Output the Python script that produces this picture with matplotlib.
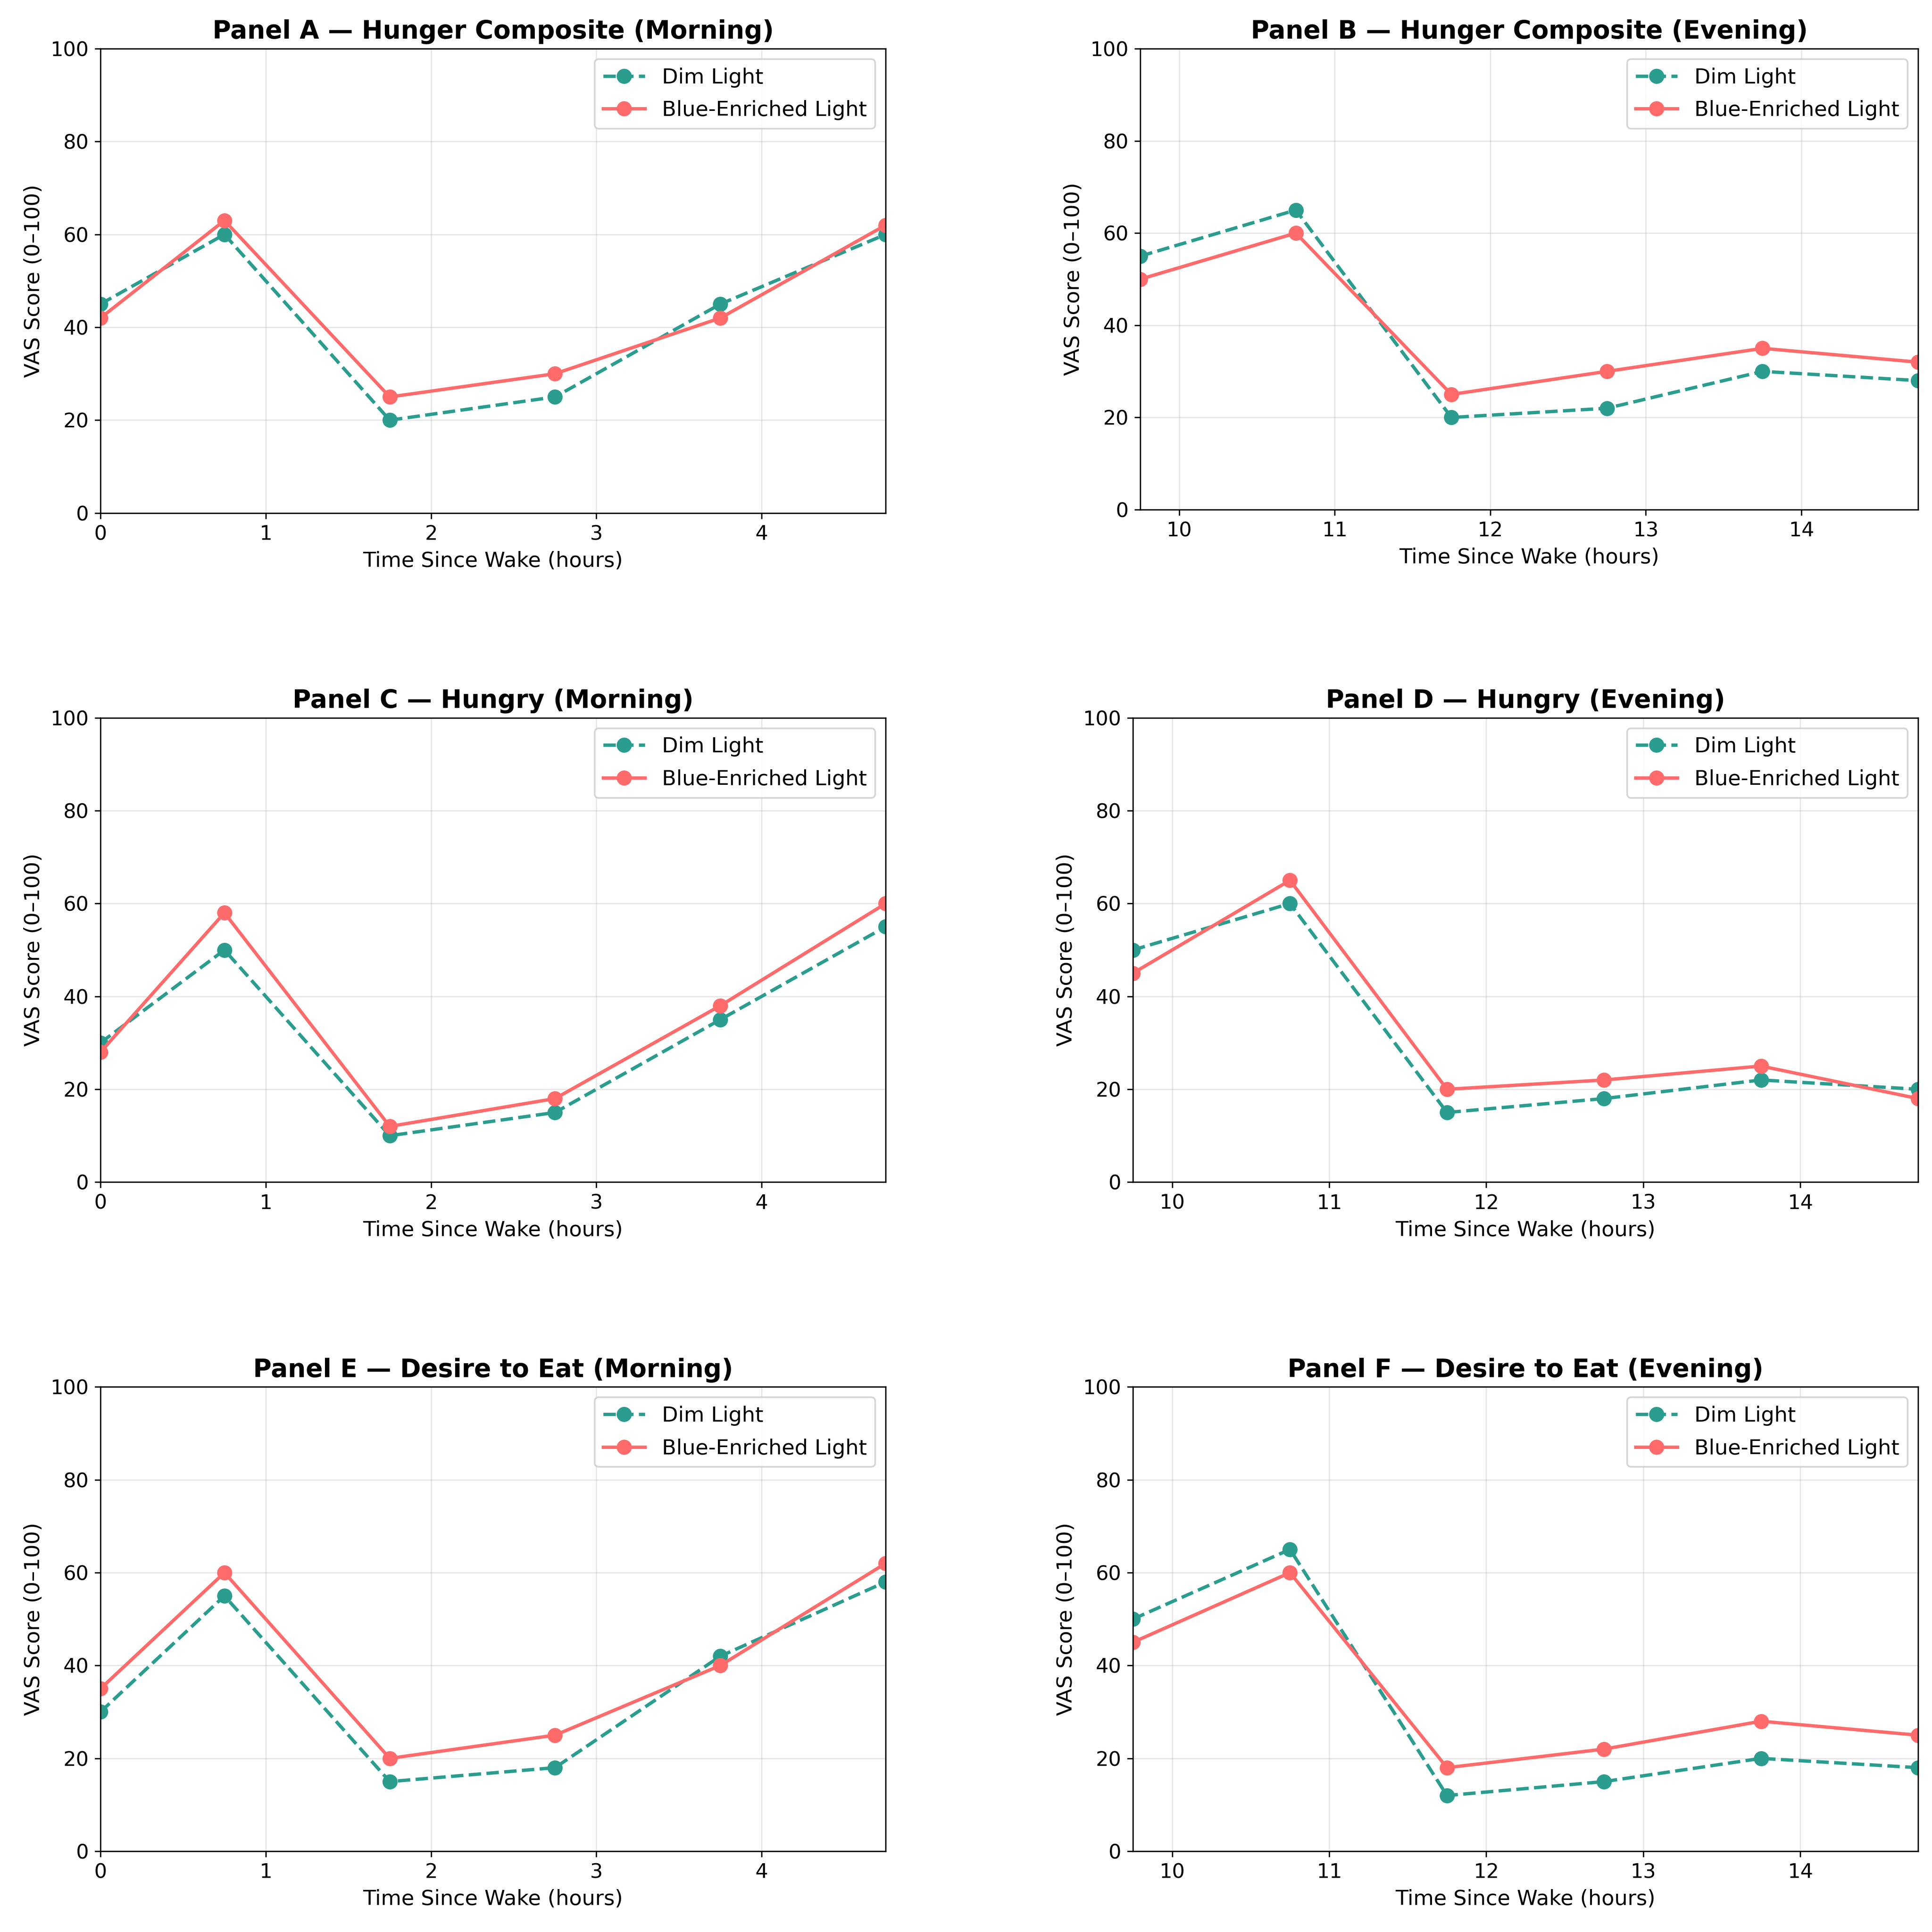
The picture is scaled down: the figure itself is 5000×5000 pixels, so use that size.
import matplotlib
matplotlib.use("Agg")
import matplotlib.pyplot as plt

# time points (hours since wake)
morning_times = [0, 0.75, 1.75, 2.75, 3.75, 4.75]
evening_times = [9.75, 10.75, 11.75, 12.75, 13.75, 14.75]

# VAS scores, dim vs blue-enriched light
hunger_am_dim = [45, 60, 20, 25, 45, 60]
hunger_am_blue = [42, 63, 25, 30, 42, 62]
hunger_pm_dim = [55, 65, 20, 22, 30, 28]
hunger_pm_blue = [50, 60, 25, 30, 35, 32]

hungry_am_dim = [30, 50, 10, 15, 35, 55]
hungry_am_blue = [28, 58, 12, 18, 38, 60]
hungry_pm_dim = [50, 60, 15, 18, 22, 20]
hungry_pm_blue = [45, 65, 20, 22, 25, 18]

desire_am_dim = [30, 55, 15, 18, 42, 58]
desire_am_blue = [35, 60, 20, 25, 40, 62]
desire_pm_dim = [50, 65, 12, 15, 20, 18]
desire_pm_blue = [45, 60, 18, 22, 28, 25]

titles = [
    "Panel A \u2014 Hunger Composite (Morning)",
    "Panel B \u2014 Hunger Composite (Evening)",
    "Panel C \u2014 Hungry (Morning)",
    "Panel D \u2014 Hungry (Evening)",
    "Panel E \u2014 Desire to Eat (Morning)",
    "Panel F \u2014 Desire to Eat (Evening)",
]

panels = [
    (morning_times, hunger_am_dim, hunger_am_blue),
    (evening_times, hunger_pm_dim, hunger_pm_blue),
    (morning_times, hungry_am_dim, hungry_am_blue),
    (evening_times, hungry_pm_dim, hungry_pm_blue),
    (morning_times, desire_am_dim, desire_am_blue),
    (evening_times, desire_pm_dim, desire_pm_blue),
]

dim_color = "#2a9d8f"
blue_color = "#ff6b6b"

plt.rcParams["font.family"] = ["DejaVu Sans"]

fig, axes = plt.subplots(3, 2, figsize=(16, 16))
fig.subplots_adjust(left=0.052, right=0.9928, top=0.9748, bottom=0.0418,
                    wspace=0.315, hspace=0.441)

for ax, title, (t, dim, blue) in zip(axes.flat, titles, panels):
    ax.plot(t, dim, "o--", color=dim_color, linewidth=2, markersize=8, label="Dim Light")
    ax.plot(t, blue, "o-", color=blue_color, linewidth=2, markersize=8, label="Blue-Enriched Light")
    ax.set_title(title, fontsize=15, fontweight="bold")
    ax.set_xlabel("Time Since Wake (hours)", fontsize=12.5)
    ax.set_ylabel("VAS Score (0\u2013100)", fontsize=12.5)
    ax.set_xlim(t[0], t[-1])
    ax.set_ylim(0, 100)
    ax.tick_params(labelsize=12)
    ax.grid(True, alpha=0.3)
    ax.legend(loc="upper right", fontsize=12.5, labelspacing=0.6)

# panel B sits a touch narrower in the original
axes[0, 1].set_position([0.5902, 0.7362, 0.9928 - 0.5902, 0.9748 - 0.7362])

fig.savefig("out.png", dpi=312.5)
